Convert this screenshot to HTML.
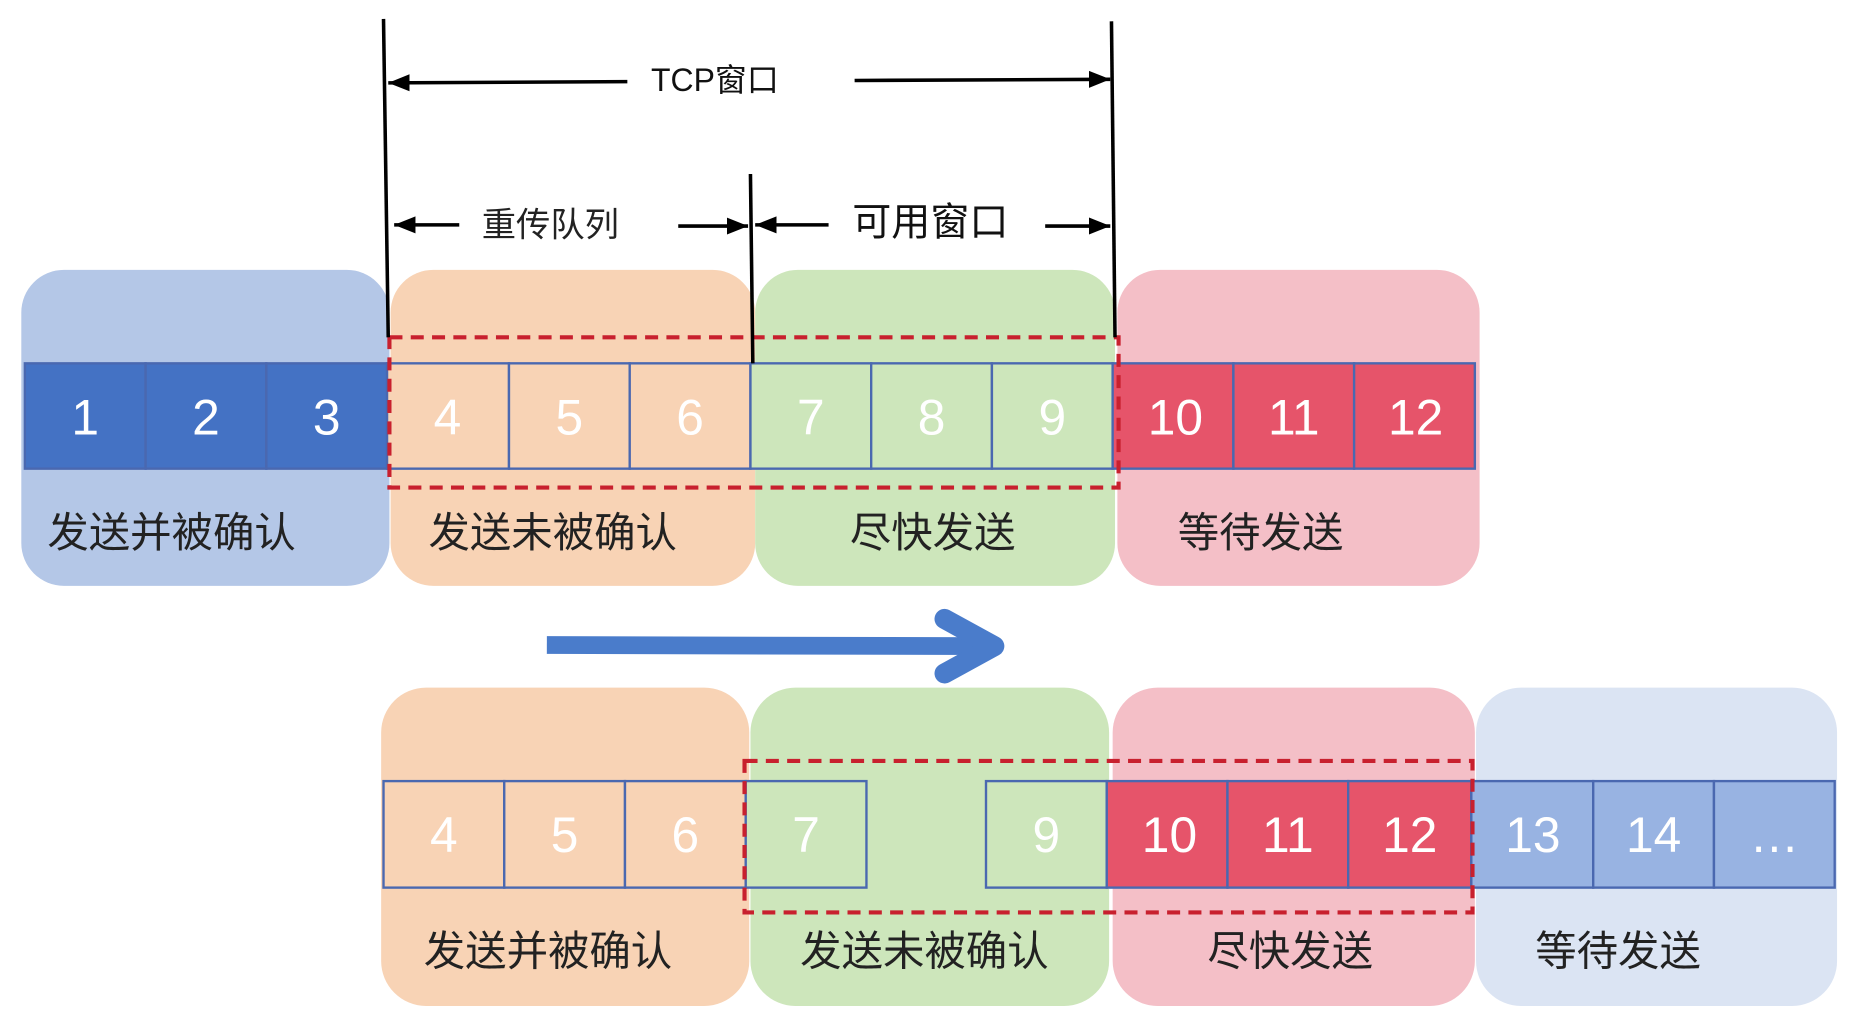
<!DOCTYPE html>
<html><head><meta charset="utf-8"><style>
html,body{margin:0;padding:0;background:#fff;width:1856px;height:1032px;overflow:hidden}
svg{display:block}
text{font-family:"Liberation Sans","Noto Sans CJK SC",sans-serif}
.n{fill:#fff;font-size:42px;text-anchor:middle}
.l{fill:#222;font-size:35px}
</style></head><body>
<svg width="1856" height="1032" viewBox="0 0 1568 872" preserveAspectRatio="none">
<defs>
<marker id="ar" viewBox="0 0 10 10" refX="10" refY="5" markerWidth="6" markerHeight="6" orient="auto-start-reverse"><path d="M0,1 L10,5 L0,9 z" fill="#000"/></marker>
</defs>
<!-- top backgrounds -->
<rect x="18" y="228" width="311" height="267" rx="36" fill="#b4c7e7"/>
<rect x="330" y="228" width="308" height="267" rx="36" fill="#f8d3b5"/>
<rect x="638" y="228" width="304" height="267" rx="36" fill="#cde6bb"/>
<rect x="944" y="228" width="306" height="267" rx="36" fill="#f4bfc7"/>
<!-- cells top -->
<g stroke="#4a68b0" stroke-width="2">
<rect x="21" y="307" width="102" height="89" fill="#4472c4"/>
<rect x="123" y="307" width="102" height="89" fill="#4472c4"/>
<rect x="225" y="307" width="102" height="89" fill="#4472c4"/>
<rect x="327" y="307" width="103" height="89" fill="#f8d3b5"/>
<rect x="430" y="307" width="102" height="89" fill="#f8d3b5"/>
<rect x="532" y="307" width="102" height="89" fill="#f8d3b5"/>
<rect x="634" y="307" width="102" height="89" fill="#cde6bb"/>
<rect x="736" y="307" width="102" height="89" fill="#cde6bb"/>
<rect x="838" y="307" width="102" height="89" fill="#cde6bb"/>
<rect x="940" y="307" width="102" height="89" fill="#e6546a"/>
<rect x="1042" y="307" width="102" height="89" fill="#e6546a"/>
<rect x="1144" y="307" width="102" height="89" fill="#e6546a"/>
</g>
<text class="n" x="72" y="367">1</text><text class="n" x="174" y="367">2</text><text class="n" x="276" y="367">3</text>
<text class="n" x="378" y="367">4</text><text class="n" x="481" y="367">5</text><text class="n" x="583" y="367">6</text>
<text class="n" x="685" y="367">7</text><text class="n" x="787" y="367">8</text><text class="n" x="889" y="367">9</text>
<text class="n" x="993" y="367">10</text><text class="n" x="1093" y="367">11</text><text class="n" x="1196" y="367">12</text>
<rect x="329" y="285" width="616" height="127" fill="none" stroke="#c8202e" stroke-width="3.5" stroke-dasharray="11,7"/>
<text class="l" x="40" y="462">发送并被确认</text>
<text class="l" x="362" y="462">发送未被确认</text>
<text class="l" x="718" y="462">尽快发送</text>
<text class="l" x="995" y="462">等待发送</text>
<!-- dimension lines -->
<g stroke="#000" stroke-width="3">
<line x1="324" y1="16" x2="328" y2="285"/>
<line x1="939" y1="18" x2="942" y2="285"/>
<line x1="634" y1="147" x2="636" y2="307"/>
<line x1="530" y1="69" x2="328" y2="70" marker-end="url(#ar)"/>
<line x1="722" y1="68" x2="938" y2="67" marker-end="url(#ar)"/>
<line x1="388" y1="190" x2="333" y2="190" marker-end="url(#ar)"/>
<line x1="573" y1="191" x2="632" y2="191" marker-end="url(#ar)"/>
<line x1="700" y1="190" x2="638" y2="190" marker-end="url(#ar)"/>
<line x1="883" y1="191" x2="938" y2="191" marker-end="url(#ar)"/>
</g>
<text x="550" y="77" style="font-size:27px;fill:#111">TCP窗口</text>
<text x="407" y="200" style="font-size:29px;fill:#222">重传队列</text>
<text x="720" y="199" style="font-size:33px;fill:#111">可用窗口</text>
<!-- big arrow -->
<line x1="462" y1="545" x2="835" y2="546" stroke="#4a7ccb" stroke-width="15"/>
<polyline points="798,523 840,546 798,569" fill="none" stroke="#4a7ccb" stroke-width="17" stroke-linecap="round" stroke-linejoin="round"/>
<!-- bottom backgrounds -->
<rect x="322" y="581" width="311" height="269" rx="38" fill="#f8d3b5"/>
<rect x="634" y="581" width="303" height="269" rx="38" fill="#cde6bb"/>
<rect x="940" y="581" width="306" height="269" rx="38" fill="#f4bfc7"/>
<rect x="1247" y="581" width="305" height="269" rx="38" fill="#dbe4f3"/>
<g stroke="#4a68b0" stroke-width="2">
<rect x="324" y="660" width="102" height="90" fill="#f8d3b5"/>
<rect x="426" y="660" width="102" height="90" fill="#f8d3b5"/>
<rect x="528" y="660" width="102" height="90" fill="#f8d3b5"/>
<rect x="630" y="660" width="102" height="90" fill="#cde6bb"/>
<rect x="833" y="660" width="102" height="90" fill="#cde6bb"/>
<rect x="935" y="660" width="102" height="90" fill="#e6546a"/>
<rect x="1037" y="660" width="102" height="90" fill="#e6546a"/>
<rect x="1139" y="660" width="104" height="90" fill="#e6546a"/>
<rect x="1243" y="660" width="103" height="90" fill="#98b3e2"/>
<rect x="1346" y="660" width="102" height="90" fill="#98b3e2"/>
<rect x="1448" y="660" width="102" height="90" fill="#98b3e2"/>
</g>
<text class="n" x="375" y="720">4</text><text class="n" x="477" y="720">5</text><text class="n" x="579" y="720">6</text>
<text class="n" x="681" y="720">7</text><text class="n" x="884" y="720">9</text>
<text class="n" x="988" y="720">10</text><text class="n" x="1088" y="720">11</text><text class="n" x="1191" y="720">12</text>
<text class="n" x="1295" y="720">13</text><text class="n" x="1397" y="720">14</text><text class="n" x="1499" y="720">…</text>
<rect x="629" y="643" width="615" height="128" fill="none" stroke="#c8202e" stroke-width="3.5" stroke-dasharray="11,7"/>
<text class="l" x="358" y="816">发送并被确认</text>
<text class="l" x="676" y="816">发送未被确认</text>
<text class="l" x="1020" y="816">尽快发送</text>
<text class="l" x="1297" y="816">等待发送</text>
</svg>
</body></html>
